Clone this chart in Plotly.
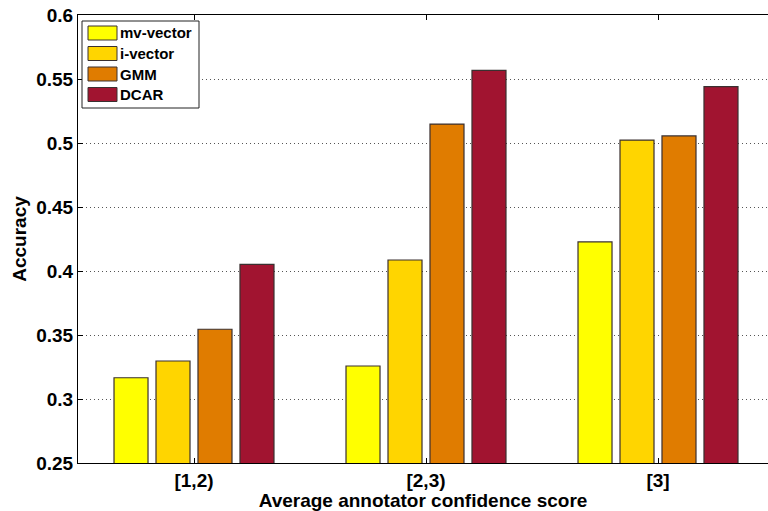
import plotly.graph_objects as go

# Accuracy per annotator-confidence bin, one list per method
categories = ["[1,2)", "[2,3)", "[3]"]
series_names = ["mv-vector", "i-vector", "GMM", "DCAR"]
mv_vector = [0.3166, 0.3258, 0.4227]
i_vector = [0.3297, 0.4086, 0.5023]
gmm = [0.3545, 0.5148, 0.5055]
dcar = [0.4052, 0.5568, 0.5440]
y_ticks = [0.25, 0.3, 0.35, 0.4, 0.45, 0.5, 0.55, 0.6]
y_tick_text = ["0.25", "0.3", "0.35", "0.4", "0.45", "0.5", "0.55", "0.6"]

colors = ["#FFFF00", "#FFD500", "#E07C00", "#A11430"]
series_values = [mv_vector, i_vector, gmm, dcar]

W, H = 768, 511
ML, MT, MB, MR = 78, 15, 48, 0
PW, PH = W - ML - MR, H - MT - MB

FONT = "Liberation Sans, Arial, Helvetica, sans-serif"

fig = go.Figure()
for name, vals, col in zip(series_names, series_values, colors):
    fig.add_trace(go.Bar(
        x=categories, y=vals, name=name, showlegend=False,
        marker=dict(color=col, line=dict(color="#3a3030", width=1.2)),
    ))


def px_x(px):
    return (px - ML) / PW


def px_y(py):
    return 1 - (py - MT) / PH


# boxed legend with wide colour swatches, top-left inside the axes
shapes = [dict(type="rect", xref="paper", yref="paper",
               x0=px_x(82), x1=px_x(199), y0=px_y(108), y1=px_y(21),
               line=dict(color="#222", width=1), fillcolor="white", layer="above")]
annotations = []
row_top, row_step, sw_h = 26, 20.5, 14
for i, (name, col) in enumerate(zip(series_names, colors)):
    top = row_top + i * row_step
    shapes.append(dict(type="rect", xref="paper", yref="paper",
                       x0=px_x(88), x1=px_x(117), y0=px_y(top + sw_h), y1=px_y(top),
                       line=dict(color="#3a3030", width=1), fillcolor=col, layer="above"))
    annotations.append(dict(xref="paper", yref="paper", x=px_x(118), y=px_y(top + sw_h / 2),
                            text=f"<b>{name}</b>", showarrow=False,
                            xanchor="left", yanchor="middle",
                            font=dict(family=FONT, size=15, color="black")))

fig.update_layout(
    width=W, height=H,
    margin=dict(l=ML, r=MR, t=MT, b=MB),
    paper_bgcolor="white", plot_bgcolor="white",
    barmode="group", bargap=0.276, bargroupgap=0.19,
    font=dict(family=FONT, size=19, color="black"),
    shapes=shapes, annotations=annotations,
    xaxis=dict(
        type="category", range=[-0.5, -0.5 + PW / 232],
        showline=True, linecolor="black", linewidth=1, mirror="ticks",
        ticks="inside", ticklen=5, tickcolor="black",
        tickfont=dict(family=FONT, size=19, color="black"),
        title=dict(text="<b>Average annotator confidence score</b>", standoff=6,
                   font=dict(family=FONT, size=19, color="black")),
        showgrid=False, zeroline=False,
    ),
    yaxis=dict(
        range=[0.25, 0.6], tickvals=y_ticks,
        ticktext=[f"<b>{t}</b>" for t in y_tick_text],
        showline=True, linecolor="black", linewidth=1, mirror=False,
        ticks="inside", ticklen=5, tickcolor="black",
        tickfont=dict(family=FONT, size=19, color="black"),
        title=dict(text="<b>Accuracy</b>", standoff=4,
                   font=dict(family=FONT, size=19, color="black")),
        showgrid=True, gridcolor="#555", gridwidth=1, griddash="1px,3px",
        zeroline=False,
    ),
)
fig.update_xaxes(ticktext=[f"<b>{c}</b>" for c in categories], tickvals=categories)

fig.write_html("out.html")
